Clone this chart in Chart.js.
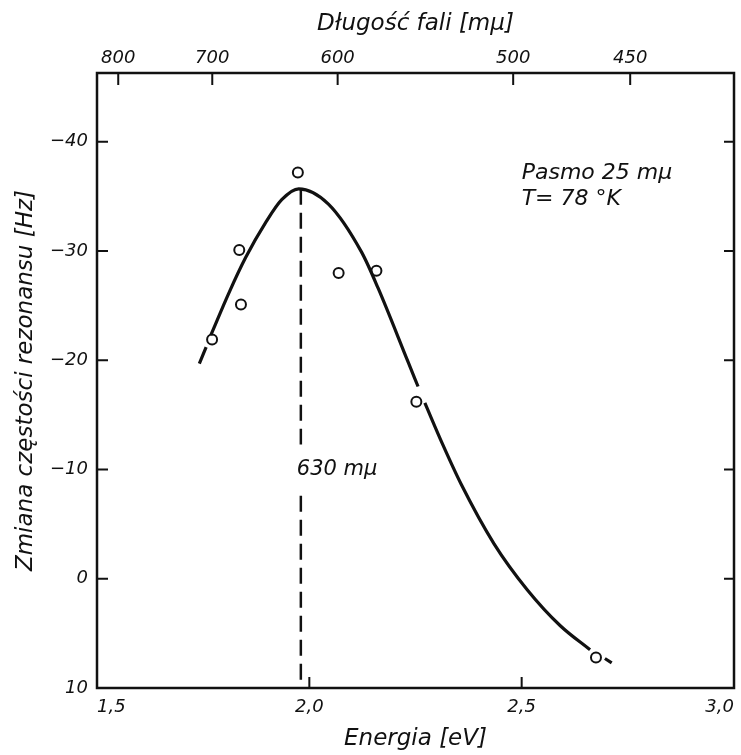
<!DOCTYPE html>
<html>
<head>
<meta charset="utf-8">
<script src="https://cdn.jsdelivr.net/npm/chart.js@4.4.0/dist/chart.umd.min.js"></script>
<style>
  html, body { margin: 0; padding: 0; background: #fff; }
  #wrap { width: 741px; height: 755px; }
</style>
</head>
<body>
<div id="wrap"><canvas id="chart"></canvas></div>
<script>
// bottom axis: photon energy [eV]
const energyTicks = [1.5, 2.0, 2.5, 3.0];
// top axis: wavelength [mμ], placed at E = hc / λ
const wavelengthTicks = [800, 700, 600, 500, 450];
// left axis: change of resonance frequency [Hz]
const shiftTicks = [-40, -30, -20, -10, 0, 10];

// measured points (open circles)
const pointEnergy = [1.771, 1.835, 1.839, 1.973, 2.069, 2.158, 2.252, 2.675];
const pointShift  = [-21.9, -30.1, -25.1, -37.2, -28.0, -28.2, -16.2, 7.2];

// hand drawn curve, null = pen lifted near a circle
const curveEnergy = [1.741, 1.757, 1.762, 1.768, 1.811, 1.850, 1.897, 1.935, 1.975, 2.045, 2.123, 2.162, 2.233, 2.256, 2.264,
                     2.272, 2.314, 2.357, 2.435, 2.513, 2.591, 2.661, 2.68, 2.696, 2.712];
const curveShift  = [-19.7, -21.2, null, -22.3, -26.2, -29.4, -32.6, -34.7, -35.7, -34.3, -29.9, -26.6, -19.8, -17.6, null,
                     -16.1, -12.3, -8.7, -3.2, 1.0, 4.3, 6.5, null, 7.3, 7.7];

// dashed line under the maximum (630 mμ), broken by its label
const peakEnergy = [1.98, 1.98, 1.98, 1.98, 1.98];
const peakShift  = [-35.7, -12.3, null, -7.6, 10];

const HC = 1240; // eV·nm

const ink = '#111';
const family = "'DejaVu Sans', 'Liberation Sans', sans-serif";
const tickFont = { family: family, size: 18, style: 'italic' };
const titleFont = { family: family, size: 23, style: 'italic' };

function pairs(xs, ys) {
    return xs.map((x, i) => ({ x: x, y: ys[i] }));
}

const paperPlugin = {
    id: 'paper',
    afterDatasetsDraw(chart) {
        const { ctx, chartArea: a, scales } = chart;
        ctx.save();
        ctx.strokeStyle = ink;
        ctx.lineWidth = 2.5;
        ctx.strokeRect(a.left, a.top, a.right - a.left, a.bottom - a.top);

        // inward tick marks
        ctx.lineWidth = 2;
        ctx.beginPath();
        scales.y.ticks.forEach(t => {
            const y = scales.y.getPixelForValue(t.value);
            if (y < a.bottom - 2) {
                ctx.moveTo(a.left, y); ctx.lineTo(a.left + 11, y);
                ctx.moveTo(a.right, y); ctx.lineTo(a.right - 10, y);
            }
        });
        scales.x.ticks.forEach(t => {
            const x = scales.x.getPixelForValue(t.value);
            if (x > a.left + 2 && x < a.right - 2) {
                ctx.moveTo(x, a.bottom); ctx.lineTo(x, a.bottom - 11);
            }
        });
        scales.xTop.ticks.forEach(t => {
            const x = scales.xTop.getPixelForValue(t.value);
            ctx.moveTo(x, a.top); ctx.lineTo(x, a.top + 12);
        });
        ctx.stroke();

        // labels inside the plot
        ctx.fillStyle = ink;
        ctx.font = 'italic 21px ' + family;
        ctx.textAlign = 'left';
        ctx.textBaseline = 'middle';
        const sx = scales.x, sy = scales.y;
        ctx.fillText('630 mμ', sx.getPixelForValue(1.98) - 4, sy.getPixelForValue(-10));
        ctx.font = 'italic 22px ' + family;
        ctx.fillText('Pasmo 25 mμ', sx.getPixelForValue(2.5), sy.getPixelForValue(-37.1));
        ctx.fillText('T= 78 °K', sx.getPixelForValue(2.5), sy.getPixelForValue(-34.7));
        ctx.restore();
    }
};

new Chart(document.getElementById('chart'), {
    type: 'scatter',
    data: {
        datasets: [
            {
                label: 'krzywa',
                data: pairs(curveEnergy, curveShift),
                showLine: true,
                spanGaps: false,
                cubicInterpolationMode: 'monotone',
                borderColor: ink,
                borderWidth: 3.2,
                pointRadius: 0,
                pointHoverRadius: 0
            },
            {
                label: '630 mμ',
                data: pairs(peakEnergy, peakShift),
                showLine: true,
                spanGaps: false,
                borderColor: ink,
                borderWidth: 2.5,
                borderDash: [16, 8],
                pointRadius: 0,
                pointHoverRadius: 0
            },
            {
                label: 'pomiary',
                data: pairs(pointEnergy, pointShift),
                showLine: false,
                pointStyle: 'circle',
                pointRadius: 5,
                pointBorderWidth: 2,
                pointBackgroundColor: '#fff',
                pointBorderColor: ink
            }
        ]
    },
    options: {
        responsive: true,
        maintainAspectRatio: false,
        animation: false,
        events: [],
        layout: { padding: { left: 0, right: 3, top: 0, bottom: 0 } },
        plugins: {
            legend: { display: false },
            tooltip: { enabled: false }
        },
        scales: {
            x: {
                type: 'linear',
                position: 'bottom',
                min: 1.5,
                max: 3.0,
                afterBuildTicks: s => { s.ticks = energyTicks.map(v => ({ value: v })); },
                afterFit: s => { s.height = 67; s.paddingLeft = 0; s.paddingRight = 0; },
                grid: { display: false, drawTicks: false },
                border: { display: false },
                ticks: {
                    align: 'inner',
                    padding: 9,
                    color: ink,
                    font: tickFont,
                    maxRotation: 0,
                    callback: v => v.toFixed(1).replace('.', ',')
                },
                title: { display: true, text: 'Energia [eV]', color: ink, font: titleFont, padding: { top: 0, bottom: 2 } }
            },
            xTop: {
                type: 'linear',
                position: 'top',
                min: 1.5,
                max: 3.0,
                afterBuildTicks: s => { s.ticks = wavelengthTicks.map(w => ({ value: HC / w })); },
                afterFit: s => { s.height = 73; s.paddingLeft = 0; s.paddingRight = 0; },
                grid: { display: false, drawTicks: false },
                border: { display: false },
                ticks: {
                    padding: 4,
                    color: ink,
                    font: tickFont,
                    maxRotation: 0,
                    callback: v => String(Math.round(HC / v))
                },
                title: { display: true, text: 'Długość fali [mμ]', color: ink, font: titleFont, padding: { top: 10, bottom: 0 } }
            },
            y: {
                type: 'linear',
                position: 'left',
                reverse: true,
                min: -46.3,
                max: 10,
                afterBuildTicks: s => { s.ticks = shiftTicks.map(v => ({ value: v })); },
                afterFit: s => { s.width = 97; s.paddingTop = 0; s.paddingBottom = 0; },
                grid: { display: false, drawTicks: false },
                border: { display: false },
                ticks: {
                    padding: 9,
                    color: ink,
                    font: tickFont,
                    callback: v => v < 0 ? '−' + Math.abs(v) : String(v)
                },
                title: { display: true, text: 'Zmiana częstości rezonansu [Hz]', color: ink, font: titleFont, padding: { top: 12, bottom: 0 } }
            }
        }
    },
    plugins: [paperPlugin]
});
</script>
</body>
</html>
